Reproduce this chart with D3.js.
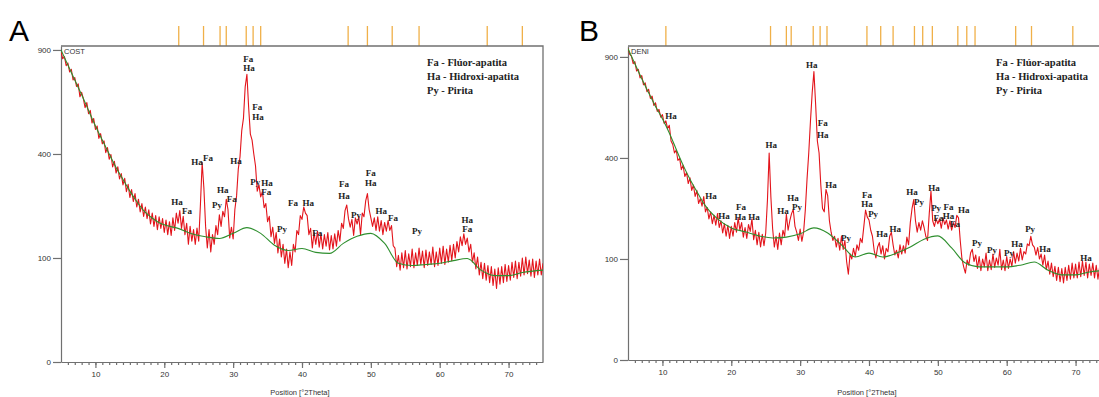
<!DOCTYPE html>
<html>
<head>
<meta charset="utf-8">
<script src="https://cdn.jsdelivr.net/npm/d3@7"></script>
<style>
  body { margin: 0; background: #fff; }
  svg { display: block; }
  .axis text { font-family: Arial, 'Liberation Sans', sans-serif; font-size: 8px; fill: #333; }
  .axis path, .axis line { stroke: #707070; stroke-width: 1.2; }
  .peak { font-family: 'Liberation Serif', 'Times New Roman', serif; font-weight: bold; font-size: 9px; fill: #222; }
  .legend { font-family: 'Liberation Serif', 'Times New Roman', serif; font-weight: bold; font-size: 10.5px; fill: #222; }
</style>
</head>
<body>
<svg id="chart" width="1099" height="397"></svg>
<script>
// 2theta grid of the scans (degrees), 0.25 step
const thetaGrid = d3.range(5, 75.001, 0.25);

// sample A (COST) counts, 20 values per 5 degrees
const countsA = [
  890, 850, 862, 812, 826, 778, 792, 735, 748, 702, 715, 650, 672, 640, 598, 622, 570, 585, 528, 548,
  500, 515, 462, 482, 440, 452, 405, 425, 380, 398, 352, 372, 330, 352, 310, 328, 290, 312, 268, 292,
  250, 275, 238, 262, 222, 245, 208, 232, 196, 222, 190, 214, 176, 205, 170, 198, 162, 195, 165, 190,
  155, 186, 150, 182, 148, 192, 160, 205, 178, 212, 165, 196, 150, 178, 128, 170, 135, 162, 128, 166,
  135, 230, 368, 280, 170, 120, 162, 112, 150, 128, 172, 150, 200, 170, 210, 195, 245, 215, 142, 168,
  140, 215, 255, 345, 390, 495, 550, 700, 765, 600, 480, 455, 400, 355, 270, 290, 252, 268, 220, 232,
  182, 196, 145, 168, 130, 155, 110, 140, 102, 128, 90, 118, 82, 112, 86, 128, 112, 160, 150, 198,
  188, 222, 205, 198, 150, 165, 120, 155, 128, 158, 122, 152, 118, 150, 124, 155, 116, 148, 118, 152,
  124, 160, 135, 178, 165, 212, 228, 190, 168, 188, 148, 192, 176, 195, 150, 205, 195, 240, 262, 215,
  192, 170, 192, 160, 195, 158, 185, 150, 180, 158, 185, 160, 172, 125, 120, 84, 105, 78, 110, 82,
  115, 80, 108, 84, 118, 82, 110, 86, 120, 88, 114, 82, 116, 86, 112, 88, 122, 84, 112, 86,
  120, 90, 124, 88, 118, 92, 126, 95, 128, 100, 134, 112, 145, 125, 152, 128, 142, 112, 128, 92,
  110, 80, 102, 70, 92, 64, 90, 62, 86, 58, 84, 54, 80, 50, 82, 56, 84, 58, 88, 60,
  86, 62, 92, 66, 94, 64, 92, 68, 100, 70, 102, 72, 96, 68, 98, 66, 94, 70, 98, 70,
  90
];

// sample B (DENI) counts
const countsB = [
  952, 915, 905, 860, 872, 818, 828, 780, 792, 742, 752, 705, 718, 670, 682, 635, 648, 605, 615, 578,
  590, 548, 560, 525, 540, 470, 455, 420, 432, 390, 398, 355, 372, 330, 345, 305, 325, 282, 300, 262,
  282, 240, 255, 232, 262, 215, 228, 195, 215, 182, 205, 178, 210, 172, 190, 158, 182, 150, 178, 145,
  175, 150, 185, 160, 198, 165, 185, 148, 172, 145, 180, 162, 195, 142, 165, 130, 160, 125, 155, 128,
  158, 250, 420, 260, 170, 125, 150, 120, 158, 130, 165, 150, 208, 165, 190, 210, 222, 175, 160, 140,
  168, 138, 160, 220, 320, 420, 560, 700, 815, 640, 470, 420, 300, 225, 215, 285, 265, 190, 160, 140,
  150, 125, 145, 118, 150, 120, 140, 95, 72, 110, 100, 122, 105, 130, 118, 145, 135, 175, 220, 200,
  192, 165, 150, 118, 102, 125, 135, 110, 128, 100, 122, 115, 150, 160, 130, 108, 118, 102, 130, 110,
  128, 112, 148, 130, 185, 225, 252, 190, 160, 185, 165, 190, 172, 150, 140, 210, 280, 190, 175, 195,
  182, 195, 170, 198, 180, 192, 168, 190, 165, 185, 172, 205, 198, 140, 100, 85, 74, 98, 88, 112,
  120, 95, 108, 82, 105, 78, 100, 85, 112, 78, 98, 80, 110, 84, 102, 88, 120, 80, 98, 78,
  105, 82, 100, 86, 115, 92, 112, 96, 122, 98, 115, 110, 132, 128, 150, 130, 125, 108, 124, 100,
  110, 88, 108, 80, 96, 72, 92, 68, 86, 62, 84, 60, 82, 58, 84, 62, 88, 64, 92, 66,
  90, 66, 94, 68, 96, 70, 94, 66, 90, 70, 92, 66, 88, 64, 86, 62, 84, 60, 82, 62,
  66
];

// fitted backgrounds (green)
const bgThetaA = [5, 6, 7, 8, 9, 10, 11, 12, 13, 14, 15, 16, 17, 18, 19, 20, 22, 24, 26, 28, 30, 32, 34, 36, 38, 40, 42, 44, 46, 48, 50, 52, 54, 56, 58, 60, 62, 64, 66, 68, 70, 72, 75];
const bgCountsA = [900, 815, 735, 660, 585, 515, 455, 400, 350, 308, 270, 238, 212, 195, 182, 174, 165, 152, 145, 141, 153, 167, 153, 126, 115, 119, 111, 109, 130, 146, 153, 130, 90, 86, 88, 90, 95, 99, 78, 69, 69, 74, 78];
const bgThetaB = [5, 6, 7, 8, 9, 10, 11, 12, 13, 14, 15, 16, 18, 20, 22, 24, 26, 28, 30, 32, 34, 36, 38, 40, 42, 44, 46, 48, 50, 52, 54, 56, 58, 60, 62, 64, 66, 68, 70, 72, 75];
const bgCountsB = [950, 860, 775, 700, 630, 570, 505, 435, 372, 320, 278, 240, 195, 171, 161, 151, 146, 148, 156, 171, 158, 130, 104, 112, 104, 112, 125, 143, 151, 123, 92, 85, 85, 85, 88, 94, 79, 71, 71, 76, 79];

// reference pattern positions shown above each frame
const refTicksA = [22.1, 25.7, 28.1, 29.0, 31.9, 32.9, 34.0, 46.7, 49.5, 53.1, 57.0, 66.9, 72.0];
const refTicksB = [10.5, 25.7, 28.0, 28.7, 31.9, 32.9, 33.9, 39.7, 41.7, 43.5, 46.6, 47.8, 49.2, 52.9, 54.2, 55.4, 61.3, 63.6, 69.6];

// phase labels: [text, 2theta, counts]
const peakLabelsA = [
  ['Fa', 32.2, 849], ['Ha', 32.3, 799], ['Fa', 33.5, 601], ['Ha', 33.6, 555],
  ['Ha', 24.75, 370], ['Fa', 26.35, 385], ['Ha', 30.4, 374],
  ['Py', 33.2, 300], ['Ha', 34.9, 296], ['Fa', 34.8, 267],
  ['Ha', 28.5, 274], ['Fa', 29.8, 246], ['Py', 27.65, 228],
  ['Ha', 21.85, 237], ['Fa', 23.3, 211], ['Py', 37.1, 164],
  ['Fa', 38.7, 234], ['Ha', 40.9, 234], ['Fa', 42.2, 154],
  ['Fa', 46.1, 293], ['Ha', 46.1, 255], ['Py', 47.85, 200],
  ['Fa', 50.0, 330], ['Ha', 50.0, 296], ['Ha', 51.5, 211], ['Fa', 53.2, 192],
  ['Py', 56.7, 159], ['Ha', 64.0, 186], ['Fa', 64.0, 164]
];
const peakLabelsB = [
  ['Ha', 11.25, 584], ['Ha', 31.7, 853], ['Fa', 33.3, 551], ['Ha', 33.3, 496],
  ['Ha', 25.8, 453], ['Ha', 34.5, 300], ['Ha', 17.05, 264], ['Ha', 18.95, 203],
  ['Fa', 21.4, 229], ['Ha', 21.3, 200], ['Ha', 23.3, 200],
  ['Ha', 28.95, 257], ['Py', 29.55, 229], ['Ha', 27.5, 218],
  ['Fa', 39.7, 267], ['Ha', 39.7, 239], ['Py', 40.6, 209], ['Py', 36.65, 146],
  ['Ha', 41.9, 156], ['Ha', 43.8, 168], ['Ha', 46.25, 277], ['Py', 47.25, 245],
  ['Ha', 49.45, 292], ['Py', 49.75, 226], ['Fa', 51.55, 230], ['Fa', 50.1, 199],
  ['Ha', 51.55, 203], ['Fa', 52.5, 181], ['Ha', 53.75, 220],
  ['Py', 55.7, 134], ['Py', 57.85, 119], ['Py', 60.35, 112], ['Ha', 61.5, 132],
  ['Py', 63.4, 168], ['Ha', 65.55, 121], ['Ha', 71.5, 102]
];

const legendLines = ['Fa - Flúor-apatita', 'Ha - Hidroxi-apatita', 'Py - Pirita'];
const yTickValues = [0, 100, 400, 900];
const xTickLabels = [10, 20, 30, 40, 50, 60, 70];
const xMinorTicks = d3.range(6, 75, 1);

const svg = d3.select('#chart');

function drawPanel(p) {
  const g = svg.append('g');
  const x = d3.scaleLinear().domain([5, 75]).range([p.left, p.right]);
  const y = d3.scaleSqrt().domain([0, p.yMax]).range([p.bottom, p.top]);

  const clipId = 'clip' + p.letter;
  svg.append('clipPath').attr('id', clipId).append('rect')
    .attr('x', p.left).attr('y', p.top)
    .attr('width', p.right - p.left).attr('height', p.bottom - p.top);

  // panel letter
  g.append('text')
    .attr('x', p.letterX).attr('y', 41)
    .style('font-family', 'Arial, "Liberation Sans", sans-serif')
    .style('font-size', '30px')
    .text(p.letter);

  // reference sticks above the frame
  g.selectAll('line.ref').data(p.refTicks).join('line')
    .attr('class', 'ref')
    .attr('x1', d => x(d)).attr('x2', d => x(d))
    .attr('y1', p.top - 20).attr('y2', p.top)
    .attr('stroke', '#f0b048').attr('stroke-width', 1.3);

  // frame top + right
  g.append('path')
    .attr('d', `M${p.left},${p.top}H${p.right}V${p.bottom}`)
    .attr('fill', 'none').attr('stroke', '#707070').attr('stroke-width', 1.3);

  // x axis: minor ticks each degree, labelled ticks every 10
  g.append('g').attr('class', 'axis')
    .attr('transform', `translate(0,${p.bottom})`)
    .call(d3.axisBottom(x).tickValues(xMinorTicks).tickSize(3).tickSizeOuter(0).tickFormat(''));
  g.append('g').attr('class', 'axis')
    .attr('transform', `translate(0,${p.bottom})`)
    .call(d3.axisBottom(x).tickValues(xTickLabels).tickSize(6).tickSizeOuter(0).tickPadding(3))
    .select('.domain').remove();

  // y axis (square-root counts)
  g.append('g').attr('class', 'axis')
    .attr('transform', `translate(${p.left},0)`)
    .call(d3.axisLeft(y).tickValues(yTickValues).tickSize(8).tickSizeOuter(0).tickPadding(2));

  g.append('text')
    .attr('x', (p.left + p.right) / 2 - 2).attr('y', 395)
    .attr('text-anchor', 'middle')
    .style('font-family', 'Arial, "Liberation Sans", sans-serif')
    .style('font-size', '7.5px').style('fill', '#333')
    .text('Position [°2Theta]');

  // sample name
  g.append('text')
    .attr('x', p.left + 3).attr('y', p.top + 8)
    .style('font-family', 'Arial, "Liberation Sans", sans-serif')
    .style('font-size', '7.5px').style('fill', '#333')
    .text(p.sample);

  const plot = g.append('g').attr('clip-path', `url(#${clipId})`);

  const scan = d3.line()
    .x((d, i) => x(thetaGrid[i]))
    .y(d => y(d));
  plot.append('path')
    .datum(p.counts)
    .attr('d', scan)
    .attr('fill', 'none').attr('stroke', '#e3141b').attr('stroke-width', 1.1)
    .attr('stroke-linejoin', 'round');

  const bg = d3.line()
    .x((d, i) => x(p.bgTheta[i]))
    .y(d => y(d))
    .curve(d3.curveMonotoneX);
  plot.append('path')
    .datum(p.bgCounts)
    .attr('d', bg)
    .attr('fill', 'none').attr('stroke', '#2e8f2e').attr('stroke-width', 1.1);

  // phase labels
  g.selectAll('text.peak').data(p.labels).join('text')
    .attr('class', 'peak')
    .attr('x', d => x(d[1])).attr('y', d => y(d[2]))
    .attr('dy', '0.35em')
    .attr('text-anchor', 'middle')
    .text(d => d[0]);

  // legend
  g.selectAll('text.legend').data(legendLines).join('text')
    .attr('class', 'legend')
    .attr('x', p.legendX).attr('y', (d, i) => p.top + 20 + i * 14)
    .text(d => d);
}

drawPanel({
  letter: 'A', sample: 'COST', letterX: 9,
  left: 61, right: 543, top: 46, bottom: 362, yMax: 923,
  counts: countsA, bgTheta: bgThetaA, bgCounts: bgCountsA,
  refTicks: refTicksA, labels: peakLabelsA, legendX: 427
});
drawPanel({
  letter: 'B', sample: 'DENI', letterX: 579,
  left: 628, right: 1110, top: 46, bottom: 360, yMax: 966,
  counts: countsB, bgTheta: bgThetaB, bgCounts: bgCountsB,
  refTicks: refTicksB, labels: peakLabelsB, legendX: 996
});
</script>
</body>
</html>
